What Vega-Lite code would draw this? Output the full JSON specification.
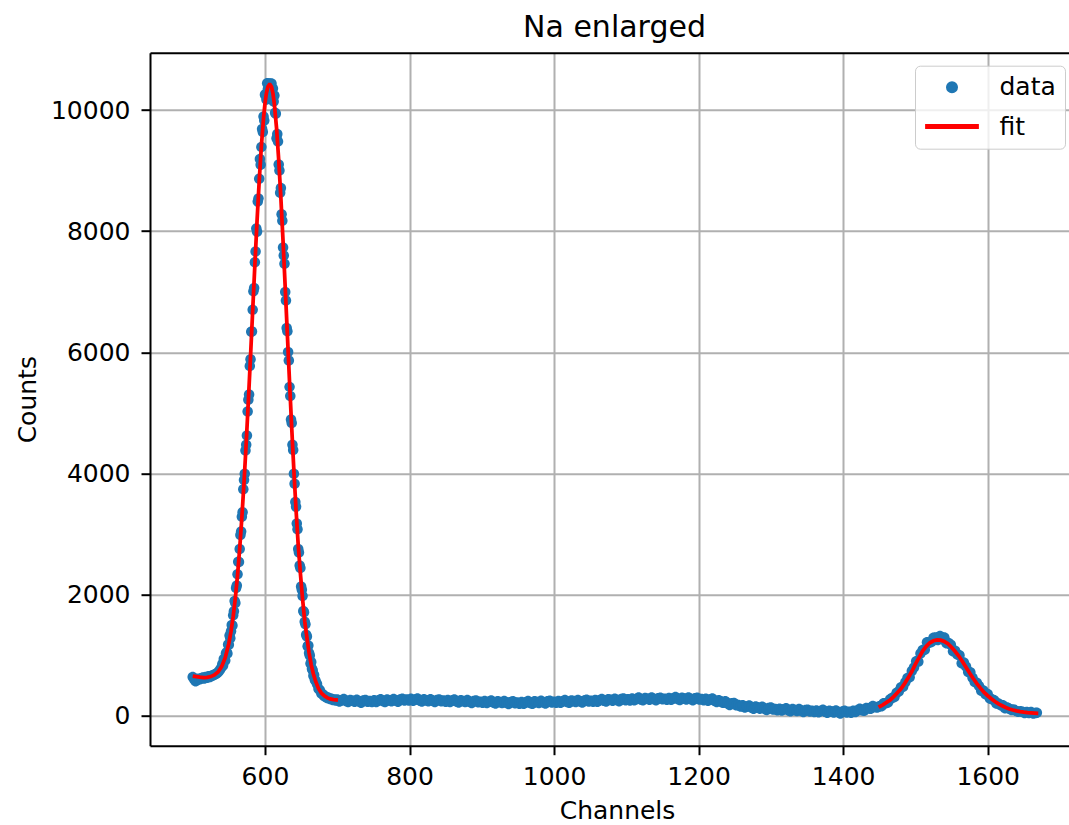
{
"$schema": "https://vega.github.io/schema/vega-lite/v6.json",
"width": 919, "height": 693,
"autosize": {"type": "none"},
"padding": {"left": 150, "top": 52.7, "right": 0, "bottom": 79.3},
"background": "white",
"config": {"view": {"stroke": null}, "font": "DejaVu Sans"},
"title": {"text": "Na enlarged", "fontSize": 30, "fontWeight": "normal", "font": "DejaVu Sans", "color": "black", "offset": 10, "dx": 5, "frame": "group", "anchor": "middle"},
"datasets": {
"pts": [
{"x":500,"y":640},{"x":502,"y":600},{"x":504,"y":570},{"x":506,"y":590},{"x":508,"y":610},{"x":510,"y":600},{"x":512,"y":620},{"x":514,"y":630},{"x":516,"y":615},{"x":518,"y":640},{"x":520,"y":625},{"x":522,"y":650},{"x":524,"y":640},{"x":526,"y":660},{"x":528,"y":665},{"x":530,"y":680},{"x":532,"y":690},{"x":534,"y":705},{"x":536,"y":730},{"x":538,"y":765},{"x":540,"y":805},
{"x":541,"y":853},{"x":542,"y":830},{"x":543,"y":937},{"x":544,"y":910},{"x":545,"y":913},{"x":546,"y":1026},{"x":547,"y":1047},{"x":548,"y":1026},{"x":549,"y":1177},{"x":550,"y":1170},
{"x":551,"y":1323},{"x":552,"y":1277},{"x":553,"y":1395},{"x":554,"y":1497},{"x":555,"y":1489},{"x":556,"y":1660},{"x":557,"y":1724},{"x":558,"y":1893},{"x":559,"y":1860},{"x":560,"y":2110},
{"x":561,"y":2150},{"x":562,"y":2337},{"x":563,"y":2540},{"x":564,"y":2539},{"x":565,"y":2752},{"x":566,"y":2985},{"x":567,"y":3043},{"x":568,"y":3286},{"x":569,"y":3359},{"x":570,"y":3739},
{"x":571,"y":3893},{"x":572,"y":3995},{"x":573,"y":4378},{"x":574,"y":4472},{"x":575,"y":4627},{"x":576,"y":5023},{"x":577,"y":5216},{"x":578,"y":5305},{"x":579,"y":5773},{"x":580,"y":5884},
{"x":581,"y":6338},{"x":582,"y":6344},{"x":583,"y":6702},{"x":584,"y":7008},{"x":585,"y":7062},{"x":586,"y":7488},{"x":587,"y":7665},{"x":588,"y":8045},{"x":589,"y":7988},{"x":590,"y":8488},
{"x":591,"y":8541},{"x":592,"y":8864},{"x":593,"y":9191},{"x":594,"y":9097},{"x":595,"y":9390},{"x":596,"y":9686},{"x":597,"y":9637},{"x":598,"y":9894},{"x":599,"y":9826},{"x":600,"y":10250},
{"x":601,"y":10266},{"x":602,"y":10173},{"x":603,"y":10440},{"x":604,"y":10345},{"x":605,"y":10437},{"x":606,"y":10354},{"x":607,"y":10433},{"x":608,"y":10292},{"x":609,"y":10436},{"x":610,"y":10205},
{"x":611,"y":10353},{"x":612,"y":10140},{"x":613,"y":10238},{"x":614,"y":9953},{"x":615,"y":9937},{"x":616,"y":9535},{"x":617,"y":9604},{"x":618,"y":9478},{"x":619,"y":9102},{"x":620,"y":9002},
{"x":621,"y":8632},{"x":622,"y":8714},{"x":623,"y":8280},{"x":624,"y":8173},{"x":625,"y":7732},{"x":626,"y":7596},{"x":627,"y":7463},{"x":628,"y":6996},{"x":629,"y":6855},{"x":630,"y":6403},
{"x":631,"y":6349},{"x":632,"y":6005},{"x":633,"y":5864},{"x":634,"y":5429},{"x":635,"y":5279},{"x":636,"y":4889},{"x":637,"y":4833},{"x":638,"y":4475},{"x":639,"y":4385},{"x":640,"y":3994},
{"x":641,"y":3829},{"x":642,"y":3527},{"x":643,"y":3449},{"x":644,"y":3173},{"x":645,"y":3079},{"x":646,"y":2754},{"x":647,"y":2693},{"x":648,"y":2478},{"x":649,"y":2438},{"x":650,"y":2133},
{"x":651,"y":2078},{"x":652,"y":1976},{"x":653,"y":1728},{"x":654,"y":1707},{"x":655,"y":1550},{"x":656,"y":1510},{"x":657,"y":1336},{"x":658,"y":1309},{"x":659,"y":1146},{"x":660,"y":1160},
{"x":661,"y":1036},{"x":662,"y":994},{"x":663,"y":861},{"x":664,"y":886},{"x":665,"y":775},{"x":666,"y":751},{"x":667,"y":659},{"x":668,"y":673},{"x":669,"y":594},{"x":670,"y":576},
{"x":672,"y":525},{"x":674,"y":445},{"x":676,"y":420},{"x":678,"y":368},{"x":680,"y":355},{"x":682,"y":322},{"x":684,"y":318},{"x":686,"y":292},{"x":688,"y":296},{"x":690,"y":274},{"x":692,"y":280},{"x":694,"y":258},{"x":696,"y":268},{"x":698,"y":250},
{"x":700,"y":267},{"x":703,"y":236},{"x":706,"y":257},{"x":709,"y":276},{"x":712,"y":241},{"x":715,"y":226},{"x":718,"y":261},{"x":721,"y":248},{"x":724,"y":230},{"x":727,"y":263},{"x":730,"y":238},{"x":733,"y":216},{"x":736,"y":250},{"x":739,"y":258},{"x":742,"y":230},{"x":745,"y":243},{"x":748,"y":226},
{"x":751,"y":257},{"x":754,"y":228},{"x":757,"y":252},{"x":760,"y":273},{"x":763,"y":241},{"x":766,"y":228},{"x":769,"y":266},{"x":772,"y":255},{"x":775,"y":239},{"x":778,"y":274},{"x":781,"y":251},{"x":784,"y":232},{"x":787,"y":269},{"x":790,"y":280},{"x":793,"y":253},{"x":796,"y":266},{"x":799,"y":250},
{"x":802,"y":279},{"x":805,"y":247},{"x":808,"y":268},{"x":811,"y":286},{"x":814,"y":251},{"x":817,"y":235},{"x":820,"y":270},{"x":823,"y":257},{"x":826,"y":240},{"x":829,"y":273},{"x":832,"y":247},{"x":835,"y":226},{"x":838,"y":260},{"x":841,"y":268},{"x":844,"y":238},{"x":847,"y":250},{"x":850,"y":231},
{"x":853,"y":259},{"x":856,"y":228},{"x":859,"y":250},{"x":862,"y":269},{"x":865,"y":235},{"x":868,"y":220},{"x":871,"y":256},{"x":874,"y":243},{"x":877,"y":225},{"x":880,"y":258},{"x":883,"y":232},{"x":886,"y":209},{"x":889,"y":243},{"x":892,"y":251},{"x":895,"y":221},{"x":898,"y":232},{"x":901,"y":213},
{"x":904,"y":241},{"x":907,"y":210},{"x":910,"y":232},{"x":913,"y":252},{"x":916,"y":218},{"x":919,"y":203},{"x":922,"y":239},{"x":925,"y":226},{"x":928,"y":209},{"x":931,"y":242},{"x":934,"y":216},{"x":937,"y":194},{"x":940,"y":228},{"x":943,"y":237},{"x":946,"y":207},{"x":949,"y":218},{"x":952,"y":199},
{"x":955,"y":228},{"x":958,"y":197},{"x":961,"y":222},{"x":964,"y":243},{"x":967,"y":211},{"x":970,"y":199},{"x":973,"y":237},{"x":976,"y":226},{"x":979,"y":211},{"x":982,"y":246},{"x":985,"y":222},{"x":988,"y":201},{"x":991,"y":237},{"x":994,"y":247},{"x":997,"y":219},{"x":1000,"y":232},{"x":1003,"y":215},
{"x":1006,"y":245},{"x":1009,"y":216},{"x":1012,"y":240},{"x":1015,"y":260},{"x":1018,"y":228},{"x":1021,"y":215},{"x":1024,"y":253},{"x":1027,"y":242},{"x":1030,"y":226},{"x":1033,"y":261},{"x":1036,"y":237},{"x":1039,"y":217},{"x":1042,"y":252},{"x":1045,"y":262},{"x":1048,"y":234},{"x":1051,"y":247},{"x":1054,"y":230},
{"x":1057,"y":259},{"x":1060,"y":231},{"x":1063,"y":255},{"x":1066,"y":277},{"x":1069,"y":246},{"x":1072,"y":233},{"x":1075,"y":272},{"x":1078,"y":262},{"x":1081,"y":246},{"x":1084,"y":282},{"x":1087,"y":258},{"x":1090,"y":238},{"x":1093,"y":274},{"x":1096,"y":284},{"x":1099,"y":257},{"x":1102,"y":270},{"x":1105,"y":253},
{"x":1108,"y":283},{"x":1111,"y":254},{"x":1114,"y":278},{"x":1117,"y":299},{"x":1120,"y":267},{"x":1123,"y":254},{"x":1126,"y":292},{"x":1129,"y":281},{"x":1132,"y":264},{"x":1135,"y":299},{"x":1138,"y":274},{"x":1141,"y":254},{"x":1144,"y":289},{"x":1147,"y":298},{"x":1150,"y":270},{"x":1153,"y":282},{"x":1156,"y":264},
{"x":1159,"y":294},{"x":1162,"y":264},{"x":1165,"y":287},{"x":1168,"y":307},{"x":1171,"y":275},{"x":1174,"y":261},{"x":1177,"y":298},{"x":1180,"y":285},{"x":1183,"y":268},{"x":1186,"y":302},{"x":1189,"y":276},{"x":1192,"y":255},{"x":1195,"y":290},{"x":1198,"y":298},{"x":1201,"y":268},{"x":1204,"y":277},{"x":1207,"y":256},
{"x":1210,"y":282},{"x":1213,"y":248},{"x":1216,"y":268},{"x":1219,"y":285},{"x":1222,"y":246},{"x":1225,"y":225},{"x":1228,"y":255},{"x":1231,"y":236},{"x":1234,"y":212},{"x":1237,"y":238},{"x":1240,"y":206},{"x":1243,"y":178},{"x":1246,"y":206},{"x":1249,"y":208},{"x":1252,"y":172},{"x":1255,"y":176},{"x":1258,"y":151},
{"x":1261,"y":173},{"x":1264,"y":136},{"x":1267,"y":153},{"x":1270,"y":170},{"x":1273,"y":134},{"x":1276,"y":117},{"x":1279,"y":152},{"x":1282,"y":137},{"x":1285,"y":117},{"x":1288,"y":148},{"x":1291,"y":120},{"x":1294,"y":96},{"x":1297,"y":128},{"x":1300,"y":134},{"x":1303,"y":103},{"x":1306,"y":112},{"x":1309,"y":91},
{"x":1312,"y":117},{"x":1315,"y":85},{"x":1318,"y":106},{"x":1321,"y":125},{"x":1324,"y":90},{"x":1327,"y":74},{"x":1330,"y":109},{"x":1333,"y":96},{"x":1336,"y":77},{"x":1339,"y":109},{"x":1342,"y":82},{"x":1345,"y":60},{"x":1348,"y":93},{"x":1351,"y":100},{"x":1354,"y":69},{"x":1357,"y":80},{"x":1360,"y":60},
{"x":1363,"y":88},{"x":1366,"y":57},{"x":1369,"y":79},{"x":1372,"y":98},{"x":1375,"y":64},{"x":1378,"y":48},{"x":1381,"y":84},{"x":1384,"y":71},{"x":1387,"y":53},{"x":1390,"y":86},{"x":1393,"y":60},{"x":1396,"y":38},{"x":1399,"y":71},{"x":1402,"y":81},{"x":1405,"y":53},{"x":1408,"y":65},{"x":1411,"y":49},
{"x":1414,"y":84},{"x":1417,"y":60},{"x":1420,"y":90},{"x":1423,"y":116},{"x":1426,"y":89},{"x":1429,"y":81},{"x":1432,"y":126},{"x":1435,"y":123},{"x":1438,"y":115},{"x":1441,"y":159},{"x":1444,"y":144},{"x":1447,"y":134},
{"x":1450,"y":156},{"x":1453,"y":155},{"x":1456,"y":206},{"x":1459,"y":207},{"x":1462,"y":218},{"x":1465,"y":271},{"x":1468,"y":296},{"x":1471,"y":307},{"x":1474,"y":381},{"x":1477,"y":398},{"x":1480,"y":468},{"x":1483,"y":478},{"x":1486,"y":551},{"x":1489,"y":621},{"x":1492,"y":637},{"x":1495,"y":740},{"x":1498,"y":796},
{"x":1501,"y":900},{"x":1504,"y":893},{"x":1507,"y":1027},{"x":1510,"y":1083},{"x":1513,"y":1090},{"x":1516,"y":1213},{"x":1519,"y":1204},{"x":1522,"y":1215},{"x":1525,"y":1288},{"x":1528,"y":1291},{"x":1531,"y":1248},{"x":1534,"y":1315},{"x":1537,"y":1263},{"x":1540,"y":1290},{"x":1543,"y":1198},{"x":1546,"y":1202},{"x":1549,"y":1170},
{"x":1552,"y":1066},{"x":1555,"y":1072},{"x":1558,"y":1009},{"x":1561,"y":997},{"x":1564,"y":868},{"x":1567,"y":879},{"x":1570,"y":814},{"x":1573,"y":721},{"x":1576,"y":718},{"x":1579,"y":625},{"x":1582,"y":555},{"x":1585,"y":546},{"x":1588,"y":489},{"x":1591,"y":412},{"x":1594,"y":417},{"x":1597,"y":353},{"x":1600,"y":357},
{"x":1603,"y":285},{"x":1606,"y":273},{"x":1609,"y":254},{"x":1612,"y":201},{"x":1615,"y":201},{"x":1618,"y":174},{"x":1621,"y":172},{"x":1624,"y":123},{"x":1627,"y":135},{"x":1630,"y":117},{"x":1633,"y":94},{"x":1636,"y":104},{"x":1639,"y":80},{"x":1642,"y":64},{"x":1645,"y":75},{"x":1648,"y":65},{"x":1651,"y":44},
{"x":1654,"y":62},{"x":1657,"y":45},{"x":1660,"y":62},{"x":1663,"y":36},{"x":1666,"y":43},{"x":1668,"y":47}
],
"fit": [
{"x":500,"y":655,"seg":"a"},{"x":505,"y":645,"seg":"a"},{"x":510,"y":636,"seg":"a"},{"x":515,"y":630,"seg":"a"},{"x":520,"y":632,"seg":"a"},{"x":525,"y":646,"seg":"a"},{"x":530,"y":673,"seg":"a"},{"x":535,"y":722,"seg":"a"},{"x":540,"y":810,"seg":"a"},{"x":545,"y":957,"seg":"a"},{"x":550,"y":1193,"seg":"a"},{"x":553,"y":1390,"seg":"a"},{"x":556,"y":1639,"seg":"a"},{"x":559,"y":1946,"seg":"a"},{"x":562,"y":2318,"seg":"a"},{"x":565,"y":2759,"seg":"a"},{"x":568,"y":3271,"seg":"a"},{"x":571,"y":3853,"seg":"a"},{"x":574,"y":4498,"seg":"a"},{"x":577,"y":5197,"seg":"a"},{"x":580,"y":5934,"seg":"a"},{"x":583,"y":6691,"seg":"a"},{"x":586,"y":7443,"seg":"a"},{"x":589,"y":8164,"seg":"a"},{"x":592,"y":8827,"seg":"a"},{"x":595,"y":9403,"seg":"a"},{"x":598,"y":9868,"seg":"a"},{"x":600,"y":10106,"seg":"a"},{"x":602,"y":10279,"seg":"a"},{"x":604,"y":10385,"seg":"a"},{"x":606,"y":10420,"seg":"a"},{"x":607,"y":10420,"seg":"a"},{"x":609,"y":10383,"seg":"a"},{"x":611,"y":10274,"seg":"a"},{"x":613,"y":10094,"seg":"a"},{"x":616,"y":9701,"seg":"a"},{"x":619,"y":9177,"seg":"a"},{"x":622,"y":8546,"seg":"a"},{"x":625,"y":7835,"seg":"a"},{"x":628,"y":7072,"seg":"a"},{"x":631,"y":6287,"seg":"a"},{"x":634,"y":5506,"seg":"a"},{"x":637,"y":4752,"seg":"a"},{"x":640,"y":4044,"seg":"a"},{"x":643,"y":3396,"seg":"a"},{"x":646,"y":2816,"seg":"a"},{"x":649,"y":2350,"seg":"a"},{"x":652,"y":1930,"seg":"a"},{"x":655,"y":1560,"seg":"a"},{"x":658,"y":1290,"seg":"a"},{"x":661,"y":1040,"seg":"a"},{"x":664,"y":840,"seg":"a"},{"x":667,"y":690,"seg":"a"},{"x":670,"y":570,"seg":"a"},{"x":674,"y":450,"seg":"a"},{"x":678,"y":375,"seg":"a"},{"x":682,"y":330,"seg":"a"},{"x":686,"y":298,"seg":"a"},{"x":690,"y":278,"seg":"a"},{"x":695,"y":265,"seg":"a"},{"x":701,"y":258,"seg":"a"},
{"x":1449,"y":140,"seg":"b"},{"x":1455,"y":180,"seg":"b"},{"x":1460,"y":220,"seg":"b"},{"x":1465,"y":260,"seg":"b"},{"x":1470,"y":315,"seg":"b"},{"x":1475,"y":380,"seg":"b"},{"x":1480,"y":445,"seg":"b"},{"x":1485,"y":530,"seg":"b"},{"x":1490,"y":625,"seg":"b"},{"x":1495,"y":730,"seg":"b"},{"x":1500,"y":850,"seg":"b"},{"x":1505,"y":960,"seg":"b"},{"x":1510,"y":1068,"seg":"b"},{"x":1515,"y":1145,"seg":"b"},{"x":1520,"y":1205,"seg":"b"},{"x":1525,"y":1237,"seg":"b"},{"x":1530,"y":1250,"seg":"b"},{"x":1535,"y":1247,"seg":"b"},{"x":1540,"y":1225,"seg":"b"},{"x":1545,"y":1190,"seg":"b"},{"x":1550,"y":1130,"seg":"b"},{"x":1555,"y":1060,"seg":"b"},{"x":1560,"y":985,"seg":"b"},{"x":1565,"y":895,"seg":"b"},{"x":1570,"y":800,"seg":"b"},{"x":1575,"y":705,"seg":"b"},{"x":1580,"y":615,"seg":"b"},{"x":1585,"y":530,"seg":"b"},{"x":1590,"y":455,"seg":"b"},{"x":1595,"y":385,"seg":"b"},{"x":1600,"y":330,"seg":"b"},{"x":1605,"y":280,"seg":"b"},{"x":1610,"y":235,"seg":"b"},{"x":1615,"y":195,"seg":"b"},{"x":1620,"y":165,"seg":"b"},{"x":1625,"y":135,"seg":"b"},{"x":1630,"y":112,"seg":"b"},{"x":1635,"y":95,"seg":"b"},{"x":1640,"y":80,"seg":"b"},{"x":1645,"y":68,"seg":"b"},{"x":1650,"y":59,"seg":"b"},{"x":1655,"y":52,"seg":"b"},{"x":1660,"y":47,"seg":"b"},{"x":1665,"y":43,"seg":"b"},{"x":1670,"y":40,"seg":"b"}
]
},
"layer": [
{
"data": {"name": "pts"},
"mark": {"type": "point", "filled": true, "size": 122, "opacity": 1},
"encoding": {
"x": {"field": "x", "type": "quantitative",
 "scale": {"domain": [440.9, 1712.5], "nice": false, "zero": false},
 "axis": {"title": "Channels", "values": [600, 800, 1000, 1200, 1400, 1600], "format": "d", "grid": true, "gridColor": "#b0b0b0", "gridWidth": 2, "domainColor": "black", "domainWidth": 2, "tickColor": "black", "tickWidth": 2, "tickSize": 9, "labelFontSize": 25, "labelFont": "DejaVu Sans", "labelColor": "black", "labelPadding": 10, "labelFlush": false, "titleFontSize": 25, "titleFont": "DejaVu Sans", "titleFontWeight": "normal", "titleColor": "black", "titlePadding": 9, "titleX": 467}},
"y": {"field": "y", "type": "quantitative",
 "scale": {"domain": [-495, 10946], "nice": false, "zero": false},
 "axis": {"title": "Counts", "values": [0, 2000, 4000, 6000, 8000, 10000], "format": "d", "grid": true, "gridColor": "#b0b0b0", "gridWidth": 2, "domainColor": "black", "domainWidth": 2, "tickColor": "black", "tickWidth": 2, "tickSize": 9, "labelFontSize": 25, "labelFont": "DejaVu Sans", "labelColor": "black", "labelPadding": 11, "labelFlush": false, "titleFontSize": 25, "titleFont": "DejaVu Sans", "titleFontWeight": "normal", "titleColor": "black", "titlePadding": 10}},
"color": {"datum": "data", "scale": {"domain": ["data", "fit"], "range": ["#1f77b4", "#ff0000"]},
 "legend": {"orient": "none", "legendX": 765, "legendY": 13, "title": null, "columns": 1, "padding": 9, "rowPadding": 13.3, "labelOffset": 35, "symbolOffset": 15.5, "symbolSize": 122, "labelFontSize": 25, "labelFont": "DejaVu Sans", "labelColor": "black", "fillColor": "rgba(255,255,255,0.8)", "strokeColor": "#cccccc", "cornerRadius": 5,
  "encode": {"legend": {"strokeWidth": {"value": 2}}}}},
"shape": {"datum": "data", "scale": {"domain": ["data", "fit"], "range": ["M-0.95,0A0.95,0.95,0,1,0,0.95,0A0.95,0.95,0,1,0,-0.95,0Z", "M-4.73,-0.32H4.73V0.32H-4.73Z"]},
 "legend": {"orient": "none", "legendX": 765, "legendY": 13, "title": null, "columns": 1, "padding": 9, "rowPadding": 13.3, "labelOffset": 35, "symbolOffset": 15.5, "symbolSize": 122, "labelFontSize": 25, "labelFont": "DejaVu Sans", "labelColor": "black", "fillColor": "rgba(255,255,255,0.8)", "strokeColor": "#cccccc", "cornerRadius": 5}}
}
},
{
"data": {"name": "fit"},
"mark": {"type": "line", "strokeWidth": 3.75},
"encoding": {
"x": {"field": "x", "type": "quantitative",
 "scale": {"domain": [440.9, 1712.5], "nice": false, "zero": false},
 "axis": {"orient": "top", "labels": false, "ticks": false, "grid": false, "title": null, "domainColor": "black", "domainWidth": 2}},
"y": {"field": "y", "type": "quantitative"},
"detail": {"field": "seg"},
"color": {"datum": "fit", "legend": null}
}
}
],
"resolve": {"axis": {"x": "independent"}}
}
